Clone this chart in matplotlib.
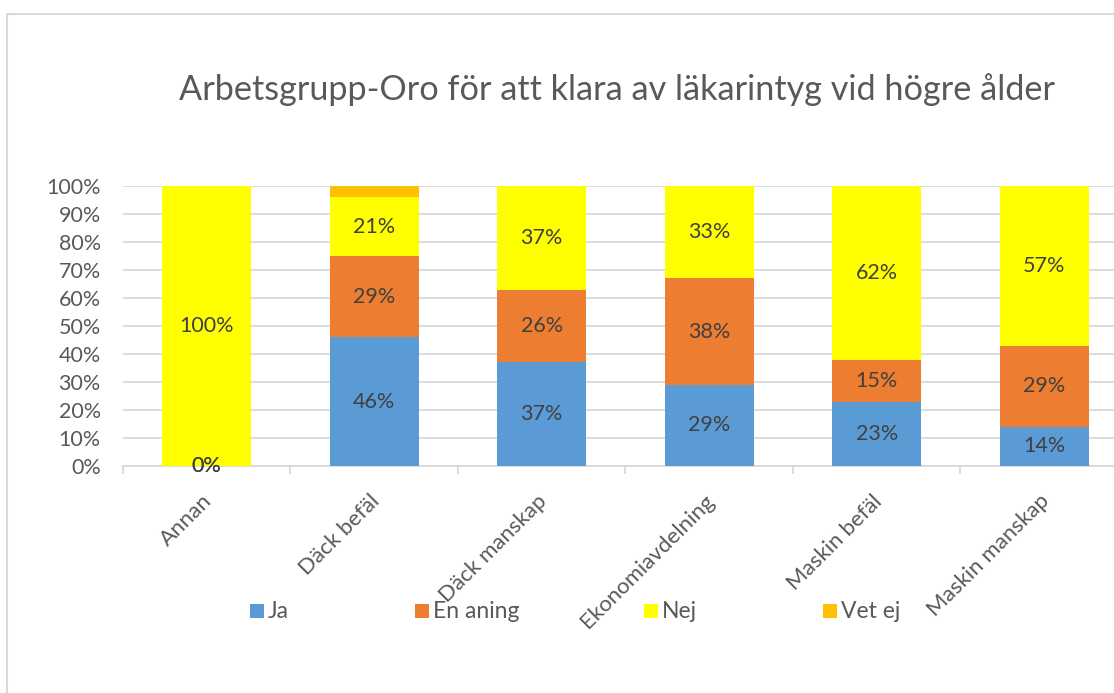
import matplotlib
matplotlib.use("Agg")
import matplotlib.pyplot as plt
from matplotlib.patches import Rectangle
from matplotlib.transforms import ScaledTranslation
import numpy as np

categories = ["Annan", "Däck befäl", "Däck manskap", "Ekonomiavdelning", "Maskin befäl", "Maskin manskap"]
series_names = ["Ja", "En aning", "Nej", "Vet ej"]
ja = [0, 46, 37, 29, 23, 14]
en_aning = [0, 29, 26, 38, 15, 29]
nej = [100, 21, 37, 33, 62, 57]
vet_ej = [0, 4, 0, 0, 0, 0]
colors = ["#5b9bd5", "#ed7d31", "#ffff00", "#ffc000"]
title = "Arbetsgrupp-Oro för att klara av läkarintyg vid högre ålder"

plt.rcParams['font.family'] = ['Lato', 'DejaVu Sans']

W, H = 1114, 693
fig = plt.figure(figsize=(W / 100, H / 100), dpi=100)
ax = fig.add_axes([123 / W, 1 - 466 / H, (1128 - 123) / W, (466 - 186) / H])

# outer frame
fig.patches.append(Rectangle((7 / W, -0.05), 1.2, 1 - 14 / H + 0.05, transform=fig.transFigure,
                             fill=False, edgecolor="#d9d9d9", linewidth=1.5))

x = np.arange(len(categories))
series = [ja, en_aning, nej, vet_ej]
bottom = np.zeros(len(categories))
bw = 0.53
for name, vals, c in zip(series_names, series, colors):
    vals = np.array(vals, dtype=float)
    ax.bar(x, vals, bw, bottom=bottom, color=c, label=name, zorder=3)
    for i, v in enumerate(vals):
        show = v > 0 or (categories[i] == "Annan" and name in ("Ja", "En aning"))
        if show and name != "Vet ej":
            ax.text(x[i], bottom[i] + v / 2, f"{int(v)}%", ha="center", va="center",
                    fontsize=15.5, color="#404040", zorder=4)
    bottom += vals

ax.set_xlim(-0.5, len(categories) - 0.5)
ax.set_ylim(0, 100)
ax.set_yticks(np.arange(0, 101, 10))
ax.set_yticklabels([f"{v}%" for v in range(0, 101, 10)], fontsize=15.5, color="#595959")
ax.yaxis.grid(True, color="#d9d9d9", linewidth=1.3, zorder=0)
ax.tick_params(axis="y", length=0, pad=16)
ax.set_xticks(x)
ax.set_xticklabels(categories, rotation=45, ha="right", rotation_mode="anchor",
                   fontsize=16, color="#595959")
ax.tick_params(axis="x", length=0, pad=18)
off = ScaledTranslation(-5 / 100, 0, fig.dpi_scale_trans)
for lbl in ax.get_xticklabels():
    lbl.set_transform(lbl.get_transform() + off)
ax.set_xticks(np.arange(-0.5, len(categories), 1), minor=True)
ax.tick_params(axis="x", which="minor", length=6, color="#d9d9d9", width=1.3)
for s in ["top", "right", "left"]:
    ax.spines[s].set_visible(False)
ax.spines["bottom"].set_color("#d9d9d9")
ax.spines["bottom"].set_linewidth(1.3)

fig.text(617 / W, 1 - 90 / H, title, ha="center", va="center", fontsize=24.7, color="#595959")

# legend entries (square + label)
leg_x = [250, 415, 644, 823]
for lx, name, c in zip(leg_x, series_names, colors):
    fig.patches.append(Rectangle((lx / W, 1 - 618 / H), 14 / W, 14 / H, transform=fig.transFigure,
                                 facecolor=c, edgecolor="none"))
    fig.text((lx + 18) / W, 1 - 611 / H, name, ha="left", va="center", fontsize=16.5, color="#595959")

fig.savefig("out.png", dpi=100)
